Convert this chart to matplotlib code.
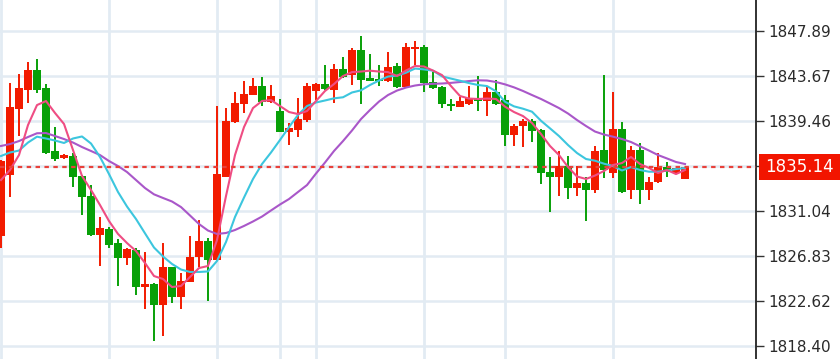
import matplotlib
matplotlib.use('Agg')
import matplotlib.pyplot as plt
from matplotlib.patches import Rectangle
from matplotlib.transforms import blended_transform_factory
import numpy as np

# OHLC (red = up, green = down)
opens = [1828.70, 1834.38, 1840.59, 1842.37, 1844.24, 1842.59, 1836.63, 1835.98, 1836.19, 1834.32,
         1832.44, 1828.79, 1829.33, 1828.02, 1826.67, 1827.39, 1823.95, 1824.18, 1822.24, 1825.77,
         1823.02, 1824.42, 1826.71, 1828.26, 1826.45, 1834.25, 1839.35, 1841.03, 1841.90, 1842.77,
         1841.27, 1840.40, 1838.41, 1838.62, 1839.56, 1842.30, 1842.93, 1842.37, 1844.31, 1843.77,
         1846.12, 1843.52, 1843.37, 1843.24, 1844.59, 1842.65, 1846.20, 1846.37, 1843.15, 1842.68,
         1841.06, 1840.81, 1841.06, 1841.59, 1841.37, 1842.18, 1841.41, 1838.16, 1839.00, 1839.47,
         1838.62, 1834.72, 1834.25, 1835.25, 1833.17, 1833.69, 1833.01, 1836.75, 1834.63, 1838.72,
         1833.01, 1836.75, 1833.01, 1833.76, 1835.13, 1834.63, 1834.01]
highs = [1835.80, 1843.05, 1843.87, 1844.99, 1845.24, 1842.96, 1838.93, 1836.35, 1836.50, 1834.40,
         1833.47, 1830.51, 1829.54, 1828.42, 1827.60, 1827.55, 1827.17, 1824.33, 1828.07, 1825.83,
         1825.26, 1828.73, 1830.20, 1828.48, 1840.87, 1840.66, 1842.21, 1843.24, 1843.47, 1843.56,
         1842.84, 1841.53, 1839.28, 1841.65, 1843.07, 1843.00, 1844.71, 1844.76, 1845.49, 1846.26,
         1847.43, 1845.74, 1844.71, 1845.96, 1844.94, 1846.77, 1846.96, 1846.58, 1844.08, 1842.75,
         1841.50, 1841.74, 1842.74, 1843.68, 1842.74, 1843.31, 1841.90, 1839.19, 1839.63, 1839.63,
         1838.70, 1836.12, 1836.69, 1836.19, 1835.25, 1834.20, 1837.13, 1843.77, 1842.21, 1839.40,
         1837.13, 1837.38, 1834.25, 1836.44, 1835.66, 1835.10, 1835.20]
lows = [1827.58, 1832.32, 1838.06, 1841.12, 1842.12, 1836.35, 1835.75, 1835.95, 1833.26, 1830.64,
        1828.70, 1825.92, 1827.55, 1824.05, 1825.98, 1823.18, 1821.84, 1818.87, 1819.36, 1822.45,
        1821.84, 1824.40, 1825.77, 1822.64, 1826.40, 1834.20, 1839.30, 1840.19, 1841.90, 1840.90,
        1841.20, 1838.40, 1837.22, 1837.94, 1839.40, 1841.43, 1842.40, 1841.12, 1843.50, 1842.84,
        1841.06, 1843.20, 1842.74, 1843.15, 1842.60, 1842.60, 1844.71, 1842.21, 1842.50, 1840.66,
        1840.43, 1840.80, 1841.00, 1840.43, 1839.94, 1840.95, 1837.13, 1837.13, 1837.06, 1837.53,
        1833.54, 1830.97, 1832.44, 1832.14, 1832.44, 1830.13, 1832.70, 1834.10, 1834.10, 1832.70,
        1832.14, 1831.67, 1832.07, 1833.70, 1834.25, 1834.60, 1834.00]
closes = [1835.72, 1840.75, 1842.53, 1844.24, 1842.37, 1836.44, 1835.94, 1836.31, 1834.20, 1832.32,
          1828.79, 1829.42, 1827.90, 1826.67, 1827.45, 1823.95, 1824.21, 1822.24, 1825.77, 1823.02,
          1824.51, 1826.76, 1828.26, 1826.45, 1834.50, 1839.47, 1841.12, 1842.00, 1842.77, 1841.22,
          1841.81, 1838.41, 1838.78, 1839.63, 1842.74, 1842.93, 1842.44, 1844.31, 1843.59, 1846.12,
          1843.31, 1843.24, 1843.20, 1844.50, 1842.68, 1846.37, 1846.30, 1843.00, 1842.53, 1841.06,
          1840.90, 1841.37, 1841.59, 1841.37, 1842.21, 1841.06, 1838.16, 1839.03, 1839.47, 1838.56,
          1834.63, 1834.25, 1835.25, 1833.17, 1833.69, 1833.01, 1836.69, 1834.88, 1838.72, 1832.85,
          1836.75, 1833.01, 1833.78, 1835.19, 1834.72, 1835.04, 1835.14]

# moving average lines as drawn
ma_fast = [1833.94, 1834.88, 1836.28, 1839.09, 1840.96, 1841.34, 1840.22, 1839.19, 1836.75, 1834.32,
           1833.01, 1831.60, 1830.10, 1828.89, 1828.04, 1827.29, 1826.17, 1824.95, 1824.67, 1823.92,
           1824.02, 1824.86, 1825.70, 1825.89, 1828.32, 1832.44, 1836.28, 1838.90, 1840.68, 1841.34,
           1841.43, 1840.87, 1840.31, 1840.12, 1840.40, 1841.34, 1842.28, 1842.93, 1843.68, 1844.05,
           1844.10, 1844.18, 1844.10, 1844.05, 1843.68, 1844.19, 1844.62, 1844.57, 1844.19, 1843.77,
           1842.74, 1841.81, 1841.57, 1841.53, 1841.57, 1841.53, 1840.81, 1840.31, 1839.93, 1839.28,
           1838.25, 1837.13, 1836.28, 1835.16, 1834.27, 1834.04, 1834.36, 1834.79, 1835.35, 1835.53,
           1836.10, 1835.44, 1835.07, 1834.60, 1834.88, 1834.50, 1834.88]
ma_mid = [1836.19, 1836.52, 1836.70, 1837.45, 1838.00, 1837.83, 1837.64, 1837.41, 1837.83, 1838.02,
          1837.36, 1836.10, 1834.50, 1832.82, 1831.46, 1830.29, 1828.95, 1827.62, 1826.78, 1826.08,
          1825.56, 1825.33, 1825.33, 1825.38, 1826.36, 1828.14, 1830.48, 1832.30, 1834.04, 1835.44,
          1836.52, 1837.69, 1838.90, 1840.03, 1840.87, 1841.20, 1841.39, 1841.59, 1841.69, 1842.14,
          1842.34, 1842.84, 1843.26, 1843.63, 1843.72, 1843.99, 1844.38, 1844.30, 1844.18, 1843.65,
          1843.44, 1843.24, 1843.02, 1842.84, 1842.74, 1842.25, 1841.27, 1840.84, 1840.62, 1840.34,
          1839.49, 1838.78, 1838.06, 1837.22, 1836.47, 1835.91, 1835.75, 1835.47, 1835.25, 1834.83,
          1835.16, 1834.88, 1834.72, 1834.72, 1834.83, 1834.97, 1835.07]
ma_slow = [1837.13, 1837.31, 1837.59, 1837.97, 1838.32, 1838.34, 1838.06, 1837.78, 1837.45, 1837.03,
           1836.66, 1836.28, 1835.72, 1835.25, 1834.69, 1833.94, 1833.19, 1832.60, 1832.26, 1831.93,
           1831.41, 1830.62, 1829.82, 1829.21, 1828.89, 1828.98, 1829.26, 1829.64, 1830.06, 1830.52,
           1831.09, 1831.65, 1832.16, 1832.82, 1833.47, 1834.55, 1835.58, 1836.66, 1837.59, 1838.58,
           1839.65, 1840.50, 1841.29, 1841.90, 1842.32, 1842.60, 1842.79, 1842.91, 1842.95, 1842.98,
           1843.04, 1843.12, 1843.21, 1843.28, 1843.26, 1843.12, 1842.90, 1842.62, 1842.28, 1841.90,
           1841.53, 1841.11, 1840.68, 1840.17, 1839.56, 1839.00, 1838.48, 1838.20, 1838.00, 1837.78,
           1837.50, 1837.10, 1836.70, 1836.28, 1835.96, 1835.63, 1835.44]

last_price = 1835.14
y_ticks = [1818.40, 1822.61, 1826.83, 1831.04, 1835.25, 1839.46, 1843.67, 1847.89]
# the 1835.25 label sits under the price tag, so it is left blank
y_tick_labels = ['1818.40', '1822.62', '1826.83', '1831.04', '', '1839.46', '1843.67', '1847.89']
grid_idx = [0, 12, 24, 31, 35, 47, 56, 68]

RED = '#f21b00'
GREEN = '#08a008'
GRID = '#e2ebf3'

o = np.array(opens); h = np.array(highs); l = np.array(lows); c = np.array(closes)
x = np.arange(len(o))
cols = np.where(c >= o, RED, GREEN)

fig = plt.figure(figsize=(8.4, 3.59), dpi=100)
ax = fig.add_axes([0, 0, 756 / 840, 1])

for gx in grid_idx:
    ax.axvline(gx, color=GRID, lw=2, zorder=0)
ax.set_yticks(y_ticks)
ax.set_yticklabels(y_tick_labels)
ax.grid(axis='y', color=GRID, lw=1.8, zorder=0)
ax.set_axisbelow(True)

ax.vlines(x, l, h, colors=cols, lw=1.4, zorder=2)
bot = np.minimum(o, c)
hgt = np.maximum(np.abs(c - o), 0.18)
ax.bar(x, hgt, 0.78, bot, color=cols, lw=0, zorder=3)

ax.plot(x, ma_slow, color='#a957c9', lw=1.5, zorder=4)
ax.plot(x, ma_mid, color='#3cc6de', lw=1.5, zorder=4)
ax.plot(x, ma_fast, color='#ef4d83', lw=1.5, zorder=4)

ax.axhline(last_price, color='#e8413a', lw=1.6, ls=(0, (2, 2)), zorder=5)

ax.set_xlim(-1 / 9, 84 - 1 / 9)
ax.set_ylim(1817.18, 1850.80)
ax.set_xticks([])
for s in ['top', 'left', 'bottom']:
    ax.spines[s].set_visible(False)
ax.spines['right'].set_color('#222222')
ax.spines['right'].set_linewidth(1.3)
ax.yaxis.tick_right()
ax.tick_params(axis='y', length=6, width=1, color='#333333', pad=3,
               labelsize=11, labelcolor='#2a2a2a')

# last price tag
tr = blended_transform_factory(ax.transAxes, ax.transData)
ax.add_patch(Rectangle((1.004, last_price - 1.22), 0.108, 2.44, transform=tr,
                       facecolor='#f21500', edgecolor='none', clip_on=False, zorder=10))
ax.text(1.004 + 0.054, last_price, f'{last_price:.2f}', transform=tr, ha='center',
        va='center', color='white', fontsize=12, zorder=11, clip_on=False)

fig.savefig('out.png', dpi=100)
